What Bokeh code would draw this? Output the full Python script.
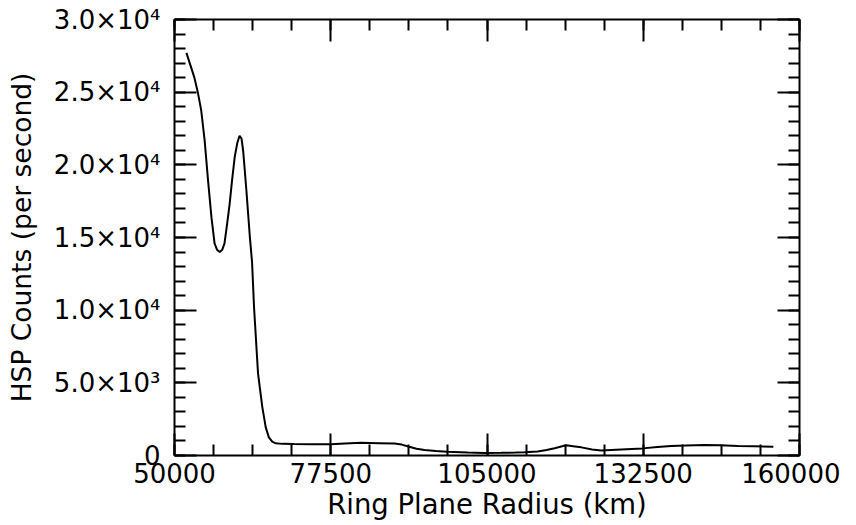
from bokeh.plotting import figure
from bokeh.models import Range1d, LinearAxis, FixedTicker
from bokeh.embed import file_html
from bokeh.resources import INLINE

# Ring plane radius (km) and HSP counts (per second)
radius_km = [52100, 53500, 54100, 54700, 55300, 55900, 56500, 57050, 57500, 57950,
             58400, 58800, 59250, 59700, 60150, 60600, 61050, 61450, 61800, 62100,
             62650, 63250, 63650, 64000, 64700, 65450, 66050, 66600, 67200, 67800,
             69000, 71000, 74000, 77500, 80000, 82800, 86000, 88700, 90000, 91300,
             92600, 94000, 96000, 98000, 101600, 104500, 107500, 110000, 111600, 113900,
             115500, 116900, 118900, 120500, 121600, 123500, 125100, 128600, 132400, 135000,
             137400, 140000, 143300, 146000, 149200, 152000, 155400]
counts = [27700, 26000, 25000, 23750, 21700, 18950, 16400, 14600, 14150, 14000,
          14150, 14600, 15900, 17300, 19000, 20550, 21500, 22000, 21800, 20900,
          18250, 15100, 13300, 10200, 5650, 3350, 1950, 1250, 950, 840,
          800, 790, 780, 770, 820, 870, 850, 830, 750, 600,
          470, 380, 310, 260, 200, 180, 190, 200, 220, 270,
          380, 500, 700, 620, 560, 420, 340, 420, 490, 580,
          650, 690, 720, 700, 660, 640, 610]

x_ticks = [50000, 77500, 105000, 132500, 160000]
x_tick_labels = ["50000", "77500", "105000", "132500", "160000"]
x_minor_ticks = [50000, 56875, 63750, 70625, 77500, 84375, 91250, 98125, 105000,
                 111875, 118750, 125625, 132500, 139375, 146250, 153125, 160000]
y_ticks = [0, 5000, 10000, 15000, 20000, 25000, 30000]
y_tick_labels = ["0", "5.0×10³", "1.0×10⁴", "1.5×10⁴", "2.0×10⁴", "2.5×10⁴", "3.0×10⁴"]
y_minor_ticks = [i * 1000 for i in range(31)]

FONT = "DejaVu Sans"

p = figure(width=840, height=525, output_backend="svg", toolbar_location=None,
           x_range=Range1d(50000, 160000), y_range=Range1d(0, 30000),
           min_border_left=174, min_border_right=41, min_border_top=19,
           min_border_bottom=70, x_axis_location=None, y_axis_location=None)
p.grid.visible = False
p.outline_line_color = None
p.background_fill_color = "white"
p.border_fill_color = "white"

p.line(radius_km, counts, line_color="black", line_width=2)


def style(ax, show_labels):
    ax.axis_line_color = "black"
    ax.axis_line_width = 2
    ax.major_tick_line_color = "black"
    ax.major_tick_line_width = 2
    ax.minor_tick_line_color = "black"
    ax.minor_tick_line_width = 2
    ax.major_tick_in = 22
    ax.major_tick_out = 0
    ax.minor_tick_in = 11
    ax.minor_tick_out = 0
    ax.major_label_text_font = FONT
    ax.major_label_text_color = "black"
    ax.axis_label_text_font = FONT
    ax.axis_label_text_font_style = "normal"
    ax.axis_label_text_color = "black"
    ax.major_label_text_font_size = "26px"
    if not show_labels:
        ax.major_label_overrides = {t: "" for t in ax.ticker.ticks}
        ax.major_label_standoff = 0


xt = FixedTicker(ticks=x_ticks, minor_ticks=x_minor_ticks)
yt = FixedTicker(ticks=y_ticks, minor_ticks=y_minor_ticks)

xb = LinearAxis(ticker=xt, axis_label="Ring Plane Radius (km)")
style(xb, True)
xb.major_label_overrides = {t: s for t, s in zip(x_ticks, x_tick_labels)}
xb.axis_label_text_font_size = "27.5px"
xb.major_label_standoff = 7
xb.axis_label_standoff = 2
p.add_layout(xb, "below")

yl = LinearAxis(ticker=yt, axis_label="HSP Counts (per second)")
style(yl, True)
yl.major_label_overrides = {t: s for t, s in zip(y_ticks, y_tick_labels)}
yl.axis_label_text_font_size = "26.5px"
yl.major_label_standoff = 14
yl.axis_label_standoff = 14
p.add_layout(yl, "left")

xa = LinearAxis(ticker=xt)
style(xa, False)
p.add_layout(xa, "above")

yr = LinearAxis(ticker=yt)
style(yr, False)
p.add_layout(yr, "right")

open("out.html", "w").write(file_html(p, INLINE))
